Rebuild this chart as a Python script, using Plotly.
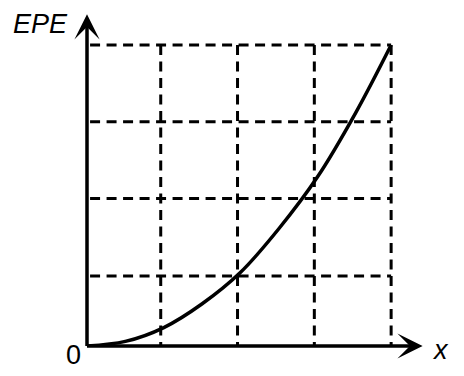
import plotly.graph_objects as go

# data (axis units; axes cross at 0,0)
curve_x = [0, 0.5, 1.0, 1.5, 2.0, 2.5, 3.0, 3.5, 3.96]
curve_y = [0, 0.06, 0.24, 0.55, 0.96, 1.53, 2.2, 3.04, 3.92]
grid_x = [0.96, 1.96, 2.96, 3.96]
grid_y = [0.91, 1.92, 2.92, 3.92]
axis_tip_x = 4.37
axis_tip_y = 4.32

# pixel geometry
L, R, T, B = 87, 31, 8, 30
W, H = 464, 376
pw, ph = W - L - R, H - T - B
unit = 76.8
xmax, ymax = pw / unit, ph / unit

def px(xp):
    return (xp - L) / pw

def py(yp):
    return (H - B - yp) / ph

fig = go.Figure()

dash = "10px,6.5px"
for t in grid_y:
    fig.add_trace(go.Scatter(x=[0.04, grid_x[-1]], y=[t, t], mode="lines",
                             line=dict(color="black", width=3, dash=dash),
                             hoverinfo="skip", showlegend=False))
for t in grid_x:
    fig.add_trace(go.Scatter(x=[t, t], y=[grid_y[-1], 0], mode="lines",
                             line=dict(color="black", width=3, dash=dash),
                             hoverinfo="skip", showlegend=False))

fig.add_trace(go.Scatter(x=curve_x, y=curve_y, mode="lines",
                         line=dict(color="black", width=3.5, shape="spline",
                                   smoothing=1.0),
                         showlegend=False, cliponaxis=False))

arrow_common = dict(showarrow=True, arrowhead=3, arrowsize=1.2, arrowwidth=3.5,
                    arrowcolor="black", text="", xref="x", yref="y",
                    axref="x", ayref="y")
fig.add_annotation(x=axis_tip_x, y=0, ax=-0.02, ay=0, **arrow_common)
fig.add_annotation(x=0, y=axis_tip_y, ax=0, ay=-0.02, **arrow_common)

font = dict(family="Liberation Sans, Arial, sans-serif", size=27, color="black")
text_common = dict(showarrow=False, xref="paper", yref="paper",
                   xanchor="center", yanchor="middle", font=font)
fig.add_annotation(x=px(40.8), y=py(24), text="<i>EPE</i>", **text_common)
fig.add_annotation(x=px(440.5), y=py(350), text="<i>x</i>", **text_common)
fig.add_annotation(x=px(73), y=py(355), text="0", **text_common)

fig.update_layout(
    width=W, height=H,
    margin=dict(l=L, r=R, t=T, b=B, pad=0),
    paper_bgcolor="white", plot_bgcolor="white",
    xaxis=dict(range=[0, xmax], visible=False, fixedrange=True),
    yaxis=dict(range=[0, ymax], visible=False, fixedrange=True),
)

fig.write_html("out.html")
